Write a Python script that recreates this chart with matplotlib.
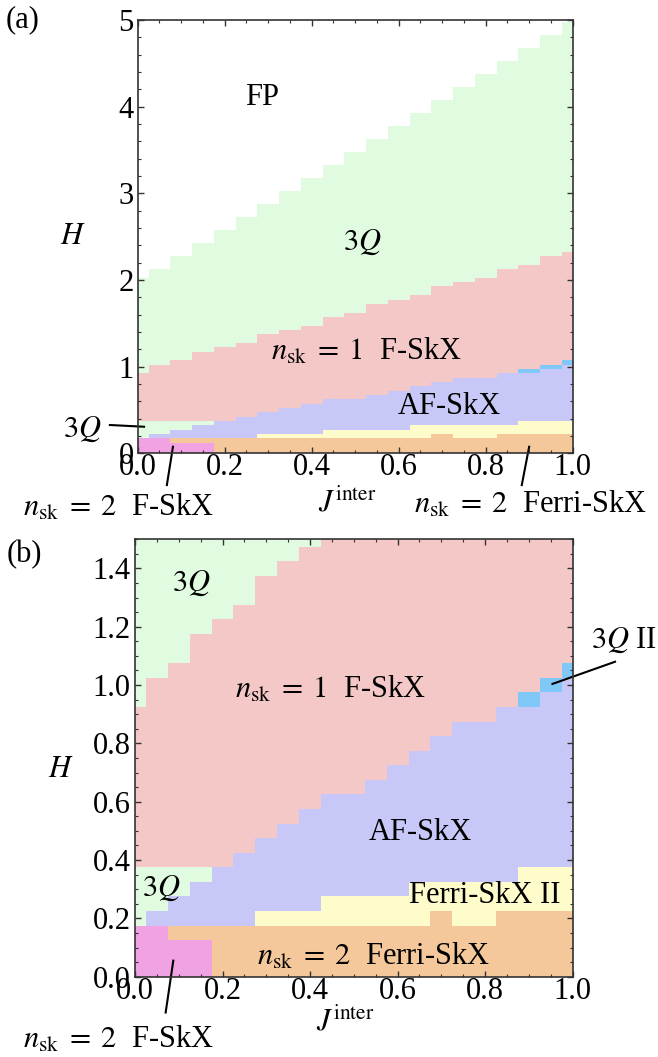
import numpy as np
import matplotlib
matplotlib.use("Agg")
import matplotlib.pyplot as plt
from matplotlib.colors import ListedColormap, BoundaryNorm

plt.rcParams["font.family"] = ["Liberation Serif", "DejaVu Serif"]
plt.rcParams["mathtext.fontset"] = "stix"

# grid of J^inter values (columns), step 0.05
j_inter = np.round(np.arange(0, 1.0001, 0.05), 2)
h_vals = np.round(np.arange(0, 5.0001, 0.05), 2)

# upper phase boundaries in H for each column (bottom -> top)
top_f2 = [0.175, 0.175, 0.125, 0.125, 0, 0, 0, 0, 0, 0, 0, 0, 0, 0, 0, 0, 0, 0, 0, 0, 0]
top_ferri2 = [0.175, 0.175, 0.175, 0.175, 0.175, 0.175, 0.175, 0.175, 0.175, 0.175, 0.175,
              0.175, 0.175, 0.175, 0.225, 0.175, 0.175, 0.225, 0.225, 0.225, 0.225]
top_ferri2_ii = [0.175, 0.175, 0.175, 0.175, 0.175, 0.175, 0.225, 0.225, 0.225, 0.275, 0.275,
                 0.275, 0.275, 0.325, 0.325, 0.325, 0.325, 0.325, 0.375, 0.375, 0.375]
top_af = [0.175, 0.225, 0.275, 0.325, 0.375, 0.425, 0.475, 0.525, 0.575, 0.625, 0.625,
          0.675, 0.725, 0.775, 0.825, 0.875, 0.875, 0.925, 0.925, 0.975, 1.025]
top_3q_low = [0.375, 0.375, 0.375, 0.375, 0.375, 0.425, 0.475, 0.525, 0.575, 0.625, 0.625,
              0.675, 0.725, 0.775, 0.825, 0.875, 0.875, 0.925, 0.925, 0.975, 1.025]
top_3q_ii = [0.375, 0.375, 0.375, 0.375, 0.375, 0.425, 0.475, 0.525, 0.575, 0.625, 0.625,
             0.675, 0.725, 0.775, 0.825, 0.875, 0.875, 0.925, 0.975, 1.025, 1.075]
top_f1 = [0.925, 1.025, 1.075, 1.175, 1.225, 1.275, 1.375, 1.425, 1.475, 1.575, 1.625,
          1.725, 1.775, 1.825, 1.925, 1.975, 2.025, 2.125, 2.175, 2.275, 2.325]
top_3q = [2.025, 2.125, 2.275, 2.425, 2.575, 2.725, 2.875, 3.025, 3.175, 3.325, 3.475,
          3.625, 3.775, 3.925, 4.075, 4.225, 4.375, 4.525, 4.675, 4.825, 4.975]

# phase ids: 0 F2, 1 Ferri2, 2 FerriII, 3 AF, 4 3Q, 5 3QII, 6 F1, 7 FP
phase_colors = ["#f0a2e2", "#f5c89c", "#fffccc", "#c8c8f8",
                "#e0fbe0", "#80c8f8", "#f5c8c8", "#ffffff"]
tops = [top_f2, top_ferri2, top_ferri2_ii, top_af, top_3q_low, top_3q_ii, top_f1, top_3q]
tops_id = [0, 1, 2, 3, 4, 5, 6, 4]

grid = np.full((len(h_vals), len(j_inter)), 7)
for c in range(len(j_inter)):
    for r, h in enumerate(h_vals):
        for t, pid in zip(tops, tops_id):
            if h < t[c]:
                grid[r, c] = pid
                break

x_edges = np.concatenate([j_inter - 0.025, [j_inter[-1] + 0.025]])
y_edges = np.concatenate([h_vals - 0.025, [h_vals[-1] + 0.025]])
cmap = ListedColormap(phase_colors)
norm = BoundaryNorm(np.arange(-0.5, 8.5, 1), cmap.N)

fig = plt.figure(figsize=(6.58, 10.57), dpi=100)
ax_a = fig.add_axes([0.2093, 0.5711, 0.661, 0.41])
ax_b = fig.add_axes([0.2052, 0.0760, 0.665, 0.4138])

fs = 22
nsk1 = r"$n_{\rm sk}\;=\;1$  F-SkX"
nsk2f = r"$n_{\rm sk}\;=\;2$  F-SkX"
nsk2ferri = r"$n_{\rm sk}\;=\;2$  Ferri-SkX"

for ax in (ax_a, ax_b):
    ax.pcolormesh(x_edges, y_edges, grid, cmap=cmap, norm=norm, antialiased=False, linewidth=0)
    ax.set_xlim(0, 1)
    ax.set_xticks(np.arange(0, 1.01, 0.2))
    ax.set_xticks(np.arange(0, 1.01, 0.05), minor=True)
    ax.set_xticklabels([f"{v:.1f}" for v in np.arange(0, 1.01, 0.2)])
    ax.tick_params(which="both", direction="in", top=True, right=True,
                   color="#333333", labelsize=fs)
    ax.tick_params(which="major", length=4.5, width=1)
    ax.tick_params(which="minor", length=2.5, width=0.8)
    ax.tick_params(axis="x", pad=0)
    ax.tick_params(axis="y", pad=3)
    for s in ax.spines.values():
        s.set_color("#333333")
        s.set_linewidth(1.2)

ax_a.set_ylim(0, 5)
ax_a.set_yticks(np.arange(0, 5.01, 1))
ax_a.set_yticks(np.arange(0, 5.01, 0.2), minor=True)
ax_a.set_yticklabels([str(v) for v in range(6)])

ax_b.set_ylim(0, 1.5)
ax_b.set_yticks(np.arange(0, 1.41, 0.2))
ax_b.set_yticks(np.arange(0, 1.501, 0.05), minor=True)
ax_b.set_yticklabels([f"{v:.1f}" for v in np.arange(0, 1.41, 0.2)])

# panel (a) labels
ax_a.text(0.286, 4.11, "FP", fontsize=fs, ha="center", va="center")
ax_a.text(0.516, 2.44, r"$3Q$", fontsize=fs, ha="center", va="center")
ax_a.text(0.526, 1.17, nsk1, fontsize=fs, ha="center", va="center")
ax_a.text(0.716, 0.535, "AF-SkX", fontsize=fs, ha="center", va="center")
ax_a.text(-0.128, 0.28, r"$3Q$", fontsize=fs, ha="center", va="center", clip_on=False)
ax_a.plot([-0.064, 0.0145], [0.327, 0.307], color="k", lw=1.5, clip_on=False)
ax_a.text(-0.045, -0.631, nsk2f, fontsize=fs, ha="center", va="center")
ax_a.plot([0.067, 0.081], [-0.366, 0.076], color="k", lw=1.5, clip_on=False)
ax_a.text(0.904, -0.596, nsk2ferri, fontsize=fs, ha="center", va="center")
ax_a.plot([0.883, 0.900], [-0.366, 0.076], color="k", lw=1.5, clip_on=False)
ax_a.text(0.481, -0.573, r"$J^{\rm inter}$", fontsize=fs, ha="center", va="center")
ax_a.text(-0.149, 2.50, r"$H$", fontsize=fs, ha="center", va="center")

# panel (b) labels
ax_b.text(0.128, 1.35, r"$3Q$", fontsize=fs, ha="center", va="center")
ax_b.text(0.446, 0.983, nsk1, fontsize=fs, ha="center", va="center")
ax_b.text(0.651, 0.496, "AF-SkX", fontsize=fs, ha="center", va="center")
ax_b.text(0.061, 0.304, r"$3Q$", fontsize=fs, ha="center", va="center")
ax_b.text(0.80, 0.277, "Ferri-SkX II", fontsize=fs, ha="center", va="center")
ax_b.text(0.546, 0.067, nsk2ferri, fontsize=fs, ha="center", va="center")
ax_b.text(1.118, 1.155, r"$3Q$ II", fontsize=fs, ha="center", va="center")
ax_b.plot([1.097, 0.954], [1.080, 1.004], color="k", lw=1.5, clip_on=False)
ax_b.text(-0.039, -0.217, nsk2f, fontsize=fs, ha="center", va="center")
ax_b.plot([0.070, 0.0875], [-0.123, 0.055], color="k", lw=1.5, clip_on=False)
ax_b.text(0.48, -0.155, r"$J^{\rm inter}$", fontsize=fs, ha="center", va="center")
ax_b.text(-0.169, 0.709, r"$H$", fontsize=fs, ha="center", va="center")

fig.text(0.035, 0.981, "(a)", fontsize=fs, ha="center", va="center")
fig.text(0.0365, 0.475, "(b)", fontsize=fs, ha="center", va="center")

fig.savefig("out.png", dpi=100)
